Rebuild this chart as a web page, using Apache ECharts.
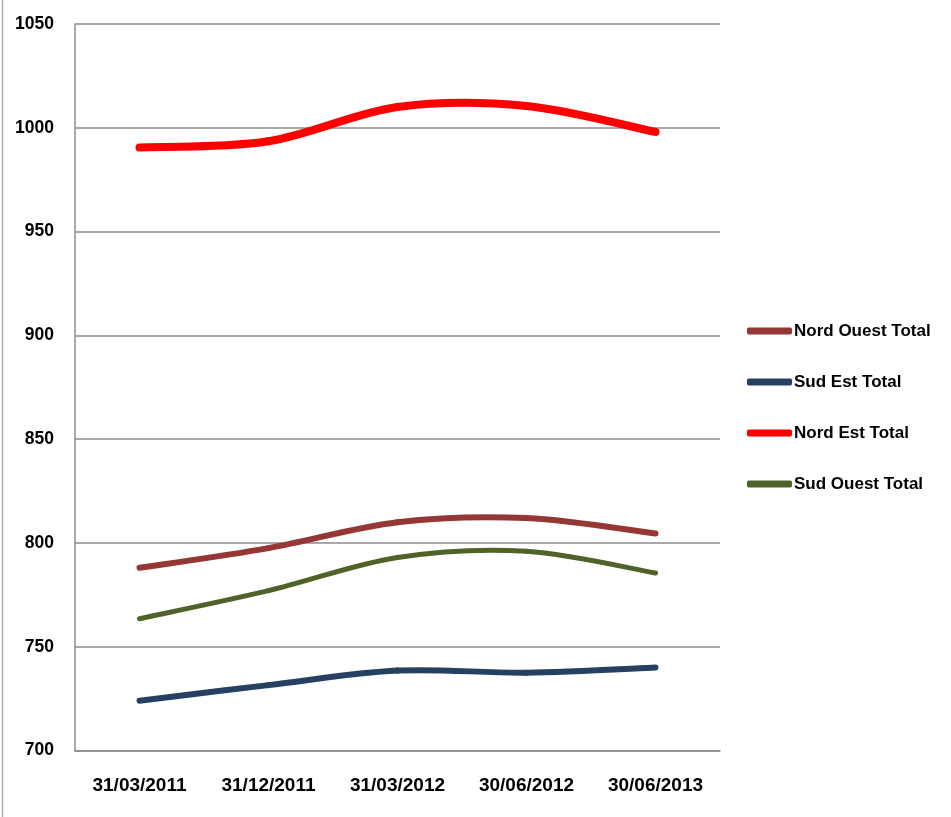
<!DOCTYPE html>
<html>
<head>
<meta charset="utf-8">
<script src="https://cdn.jsdelivr.net/npm/echarts@6/dist/echarts.min.js"></script>
<style>
  html, body { margin: 0; padding: 0; background: #fff; }
  #chart { width: 951px; height: 817px; }
</style>
</head>
<body>
<div id="chart"></div>
<script>
// Quarter-end dates on the category axis
const dates = ['31/03/2011', '31/12/2011', '31/03/2012', '30/06/2012', '30/06/2013'];

// Totals per region
const nordOuest = [788, 797.5, 810, 812, 804.5];
const sudEst    = [724, 731.5, 738.5, 737.5, 740];
const nordEst   = [990.5, 993.5, 1010, 1010.5, 998];
const sudOuest  = [763.5, 777, 793, 796, 785.5];

// Value axis range
const yMin = 700, yMax = 1050, yStep = 50;

const FONT = '"Liberation Sans", Arial, sans-serif';
const GRID_COLOR = '#8c8c8c';

// Smoothed line: each data item draws the cubic segment to the next point,
// with control points taken from the neighbouring points (Catmull-Rom style).
function smoothSeries(name, values, color, width) {
  return {
    name: name,
    type: 'custom',
    coordinateSystem: 'cartesian2d',
    data: values.map((v, i) => [i, v]),
    encode: { x: 0, y: 1 },
    itemStyle: { color: color },
    renderItem: function (params, api) {
      const i = params.dataIndex;
      const n = values.length;
      if (i >= n - 1) return null;
      const pt = k => api.coord([k, values[k]]);
      const p0 = pt(Math.max(i - 1, 0));
      const p1 = pt(i);
      const p2 = pt(i + 1);
      const p3 = pt(Math.min(i + 2, n - 1));
      return {
        type: 'bezierCurve',
        shape: {
          x1: p1[0], y1: p1[1],
          cpx1: p1[0] + (p2[0] - p0[0]) / 6, cpy1: p1[1] + (p2[1] - p0[1]) / 6,
          cpx2: p2[0] - (p3[0] - p1[0]) / 6, cpy2: p2[1] - (p3[1] - p1[1]) / 6,
          x2: p2[0], y2: p2[1]
        },
        style: { stroke: color, lineWidth: width, lineCap: 'round', fill: 'none' }
      };
    }
  };
}

const chart = echarts.init(document.getElementById('chart'), null, { renderer: 'canvas' });
chart.setOption({
  animation: false,
  backgroundColor: '#ffffff',
  grid: { left: 75, right: 231, top: 24, bottom: 66.5, containLabel: false },
  xAxis: {
    type: 'category',
    data: dates,
    boundaryGap: true,
    axisLine: { show: true, lineStyle: { color: GRID_COLOR, width: 1.5 } },
    axisTick: { show: false },
    axisLabel: { interval: 0, color: '#000', fontFamily: FONT, fontWeight: 'bold', fontSize: 19, margin: 26 }
  },
  yAxis: {
    type: 'value',
    min: yMin, max: yMax, interval: yStep,
    axisLine: { show: true, lineStyle: { color: GRID_COLOR, width: 1.5 } },
    axisTick: { show: false },
    splitLine: { show: true, lineStyle: { color: GRID_COLOR, width: 1.5 } },
    axisLabel: { formatter: v => String(v), color: '#000', fontFamily: FONT, fontWeight: 'bold', fontSize: 17.5, margin: 21 }
  },
  legend: {
    orient: 'vertical',
    left: 742,
    top: 316,
    icon: 'roundRect',
    itemWidth: 45,
    itemHeight: 7,
    itemGap: 31,
    data: ['Nord Ouest Total', 'Sud Est Total', 'Nord Est Total', 'Sud Ouest Total'],
    textStyle: { color: '#000', fontFamily: FONT, fontWeight: 'bold', fontSize: 17, lineHeight: 20, padding: [0, 0, 0, -3] }
  },
  graphic: [{
    type: 'line',
    shape: { x1: 2.5, y1: 0, x2: 2.5, y2: 817 },
    style: { stroke: '#b0b0b0', lineWidth: 1.5 }
  }],
  series: [
    smoothSeries('Nord Ouest Total', nordOuest, '#953735', 6),
    smoothSeries('Sud Est Total', sudEst, '#254061', 6),
    smoothSeries('Nord Est Total', nordEst, '#ff0000', 8),
    smoothSeries('Sud Ouest Total', sudOuest, '#4f6228', 5)
  ]
});
</script>
</body>
</html>
